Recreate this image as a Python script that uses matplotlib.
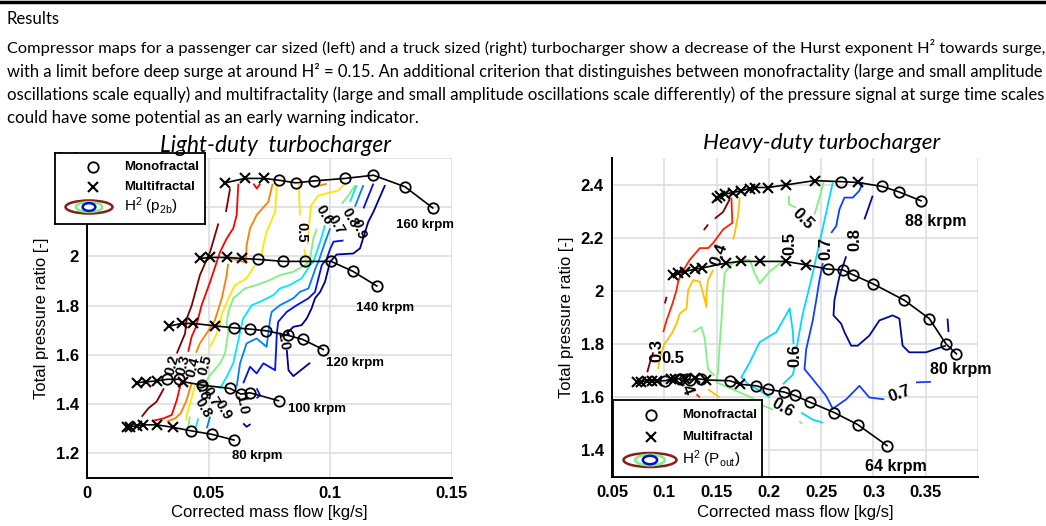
import matplotlib
matplotlib.use("Agg")
import matplotlib.pyplot as plt
from matplotlib.patches import Ellipse
from matplotlib.lines import Line2D

plt.rcParams['font.family'] = ['Liberation Sans', 'DejaVu Sans']
plt.rcParams['mathtext.fontset'] = 'custom'
plt.rcParams['mathtext.rm'] = 'Liberation Sans'
plt.rcParams['mathtext.default'] = 'rm'

# ---------------- text ----------------
heading = "Results"
paragraph = [
    "Compressor maps for a passenger car sized (left) and a truck sized (right) turbocharger show a decrease of the Hurst exponent H\u00b2 towards surge,",
    "with a limit before deep surge at around H\u00b2 = 0.15. An additional criterion that distinguishes between monofractality (large and small amplitude",
    "oscillations scale equally) and multifractality (large and small amplitude oscillations scale differently) of the pressure signal at surge time scales",
    "could have some potential as an early warning indicator.",
]

# ---------------- light-duty speedlines ----------------
ld_160_x = [0.0567, 0.0649, 0.0728, 0.0787, 0.0858, 0.0934, 0.1060, 0.1177, 0.1307, 0.1421]
ld_160_y = [2.299, 2.317, 2.317, 2.310, 2.299, 2.307, 2.317, 2.330, 2.283, 2.197]
ld_160_m = "xxxooooooo"
ld_140_x = [0.0464, 0.0506, 0.0577, 0.0636, 0.0704, 0.0807, 0.0896, 0.1003, 0.1092, 0.1191]
ld_140_y = [1.992, 1.996, 1.996, 1.992, 1.988, 1.980, 1.980, 1.980, 1.940, 1.880]
ld_140_m = "xxxxoooooo"
ld_120_x = [0.0338, 0.0389, 0.0437, 0.0526, 0.0604, 0.0670, 0.0736, 0.0824, 0.0886, 0.0971]
ld_120_y = [1.717, 1.728, 1.728, 1.718, 1.710, 1.705, 1.698, 1.680, 1.663, 1.622]
ld_120_m = "xxxxoooooo"
ld_100_x = [0.0207, 0.0243, 0.0286, 0.0330, 0.0379, 0.0396, 0.0474, 0.0588, 0.0632, 0.0670, 0.0787]
ld_100_y = [1.487, 1.491, 1.494, 1.501, 1.501, 1.491, 1.477, 1.464, 1.441, 1.446, 1.414]
ld_100_m = "xxxooxooooo"
ld_80_x = [0.0163, 0.0177, 0.0204, 0.0231, 0.0286, 0.0352, 0.0426, 0.0515, 0.0604]
ld_80_y = [1.308, 1.308, 1.312, 1.316, 1.316, 1.306, 1.292, 1.277, 1.254]
ld_80_m = "xxxxxxooo"
ld_speed_names = ["160 krpm", "140 krpm", "120 krpm", "100 krpm", "80 krpm"]
ld_speed_pos = [(0.139, 2.127), (0.1225, 1.789), (0.110, 1.568), (0.0944, 1.379), (0.0701, 1.189)]

# ---------------- light-duty H2 iso-lines (0.2 ... 1.0) ----------------
ld_h02 = [[(0.0588, 2.276), (0.0571, 2.181)],
          [(0.0540, 2.134), (0.0506, 2.019), (0.0464, 1.924), (0.0430, 1.800), (0.0410, 1.748),
           (0.0403, 1.687), (0.0369, 1.606)],
          [(0.0316, 1.464), (0.0286, 1.410), (0.0252, 1.383), (0.0225, 1.349)]]
ld_h03 = [[(0.0622, 2.296), (0.0615, 2.168), (0.0601, 2.114), (0.0574, 2.073), (0.0547, 2.019),
           (0.0506, 1.897), (0.0471, 1.802), (0.0448, 1.714), (0.0430, 1.674), (0.0416, 1.613)],
          [(0.0389, 1.498), (0.0369, 1.417), (0.0348, 1.356), (0.0314, 1.342), (0.0273, 1.333)],
          [(0.0684, 2.296), (0.0698, 2.276), (0.0712, 2.296)]]
ld_h04 = [[(0.0763, 2.296), (0.0745, 2.222), (0.0697, 2.168), (0.0670, 2.114), (0.0656, 2.046),
           (0.0653, 1.975), (0.0620, 1.985), (0.0588, 1.992)],
          [(0.0580, 1.970), (0.0574, 1.924), (0.0554, 1.830), (0.0525, 1.740), (0.0500, 1.700),
           (0.0464, 1.647), (0.0448, 1.609)],
          [(0.0430, 1.485), (0.0407, 1.410), (0.0385, 1.363), (0.0362, 1.342), (0.0328, 1.329)],
          [(0.0930, 2.282), (0.0985, 2.295)]]
ld_h05 = [[(0.0780, 2.290), (0.0773, 2.181), (0.0738, 2.100), (0.0725, 2.046), (0.0718, 2.005)],
          [(0.0690, 1.965), (0.0656, 1.911), (0.0608, 1.884), (0.0581, 1.830), (0.0553, 1.762),
           (0.0545, 1.720), (0.0530, 1.680), (0.0506, 1.633)],
          [(0.0444, 1.478), (0.0430, 1.424), (0.0412, 1.363), (0.0407, 1.335)],
          [(0.0873, 2.296), (0.0871, 2.276), (0.0875, 2.167)],
          [(0.0893, 2.031), (0.0899, 1.984)],
          [(0.1060, 2.295), (0.1033, 2.268), (0.0951, 2.248), (0.0921, 2.207), (0.0912, 2.126),
           (0.0907, 2.050)]]
ld_h06 = [[(0.1101, 2.288), (0.1074, 2.248), (0.1047, 2.214)],
          [(0.0944, 2.112), (0.0930, 2.072), (0.0921, 2.018), (0.0917, 1.984), (0.0896, 1.965),
           (0.0848, 1.938), (0.0793, 1.924), (0.0752, 1.904), (0.0697, 1.884), (0.0649, 1.870),
           (0.0601, 1.830), (0.0581, 1.775), (0.0574, 1.728), (0.0581, 1.694), (0.0567, 1.606),
           (0.0547, 1.566), (0.0506, 1.518), (0.0478, 1.478)],
          [(0.0423, 1.349), (0.0416, 1.308)]]
ld_h07 = [[(0.1108, 2.290), (0.1081, 2.222)],
          [(0.0978, 2.127), (0.0958, 2.059), (0.0930, 1.978), (0.0917, 1.965), (0.0882, 1.911),
           (0.0834, 1.884), (0.0793, 1.870), (0.0766, 1.843), (0.0711, 1.816), (0.0677, 1.802),
           (0.0642, 1.748), (0.0635, 1.720), (0.0622, 1.660), (0.0601, 1.566), (0.0574, 1.511),
           (0.0547, 1.464)],
          [(0.0457, 1.342), (0.0448, 1.308)]]
ld_h08 = [[(0.1136, 2.290), (0.1101, 2.202)],
          [(0.0999, 2.114), (0.0974, 2.046), (0.0951, 1.978), (0.0944, 1.965), (0.0910, 1.870),
           (0.0875, 1.856), (0.0848, 1.830), (0.0793, 1.802), (0.0759, 1.775), (0.0752, 1.741),
           (0.0738, 1.633), (0.0697, 1.667), (0.0656, 1.647), (0.0629, 1.566), (0.0615, 1.471)],
          [(0.0492, 1.302), (0.0506, 1.349)]]
ld_h09 = [[(0.1177, 2.296), (0.1136, 2.195)],
          [(0.1054, 2.065), (0.1013, 2.060), (0.0999, 2.030), (0.0985, 1.990), (0.0965, 1.965),
           (0.0937, 1.856), (0.0910, 1.830), (0.0862, 1.802), (0.0821, 1.775), (0.0786, 1.735),
           (0.0780, 1.687), (0.0777, 1.620), (0.0773, 1.538), (0.0725, 1.566), (0.0697, 1.525),
           (0.0670, 1.552), (0.0642, 1.485)],
          [(0.0697, 1.464), (0.0711, 1.437), (0.0697, 1.424)]]
ld_h10 = [[(0.1225, 2.290), (0.1177, 2.181), (0.1156, 2.141), (0.1122, 2.033), (0.1094, 2.012),
           (0.1026, 2.008), (0.0999, 1.978), (0.0992, 1.951), (0.0978, 1.897), (0.0958, 1.856),
           (0.0937, 1.830), (0.0923, 1.789), (0.0903, 1.748), (0.0882, 1.721), (0.0848, 1.714),
           (0.0821, 1.687)],
          [(0.0821, 1.620), (0.0828, 1.538), (0.0848, 1.514), (0.0917, 1.568)],
          [(0.0642, 1.322), (0.0656, 1.308), (0.0672, 1.319)]]
ld_colors = ['#800000', '#ff0000', '#ff8000', '#ffe600', '#80f080',
             '#00e8ff', '#0080ff', '#0010f0', '#000090']
ld_label_text = ["0.5", "0.6", "0.7", "0.8", "0.9", "1.0",
                 "0.2", "0.3", "0.4", "0.5", "0.6", "0.7", "0.8", "0.9", "1.0"]
ld_label_pos = [(0.0882, 2.10), (0.0975, 2.17), (0.1025, 2.13), (0.1080, 2.155), (0.1115, 2.11),
                (0.0806, 1.66), (0.0348, 1.56), (0.0396, 1.56), (0.0437, 1.552), (0.0485, 1.56),
                (0.0470, 1.455), (0.0510, 1.43), (0.0478, 1.385), (0.0560, 1.378), (0.0636, 1.398)]
ld_label_rot = [-90, -60, -60, -60, -70, -80, 75, 75, 75, 75, -70, -60, -60, -60, -80]

# ---------------- heavy-duty speedlines ----------------
hd_88_x = [0.1500, 0.1530, 0.1578, 0.1657, 0.1737, 0.1817, 0.1864, 0.1991, 0.2167, 0.2437,
           0.2691, 0.2850, 0.3083, 0.3241, 0.3455]
hd_88_y = [2.348, 2.358, 2.364, 2.370, 2.377, 2.385, 2.389, 2.389, 2.399, 2.415,
           2.411, 2.408, 2.393, 2.373, 2.339]
hd_88_m = "xxxxxxxxxxoxooo"
hd_80_x = [0.1085, 0.1133, 0.1197, 0.1292, 0.1356, 0.1594, 0.1737, 0.1912, 0.2160, 0.2357,
           0.2564, 0.2707, 0.2809, 0.3000, 0.3295, 0.3534, 0.3693, 0.3794]
hd_80_y = [2.060, 2.069, 2.073, 2.082, 2.086, 2.105, 2.111, 2.111, 2.111, 2.098,
           2.082, 2.079, 2.060, 2.026, 1.965, 1.896, 1.801, 1.763]
hd_80_m = "xxxxxxxxxxoooooooo"
hd_64_x = [0.0736, 0.0780, 0.0831, 0.0880, 0.0926, 0.1006, 0.1060, 0.1101, 0.1150, 0.1196,
           0.1250, 0.1292, 0.1350, 0.1403, 0.1626, 0.1721, 0.1880, 0.1991, 0.2141, 0.2246,
           0.2389, 0.2627, 0.2850, 0.3130]
hd_64_y = [1.656, 1.658, 1.662, 1.662, 1.662, 1.662, 1.668, 1.668, 1.670, 1.668,
           1.665, 1.671, 1.668, 1.665, 1.662, 1.649, 1.643, 1.630, 1.620, 1.607,
           1.582, 1.542, 1.497, 1.418]
hd_64_m = "xxxxxoxxoxoxoxoxoooooooo"
hd_speed_names = ["88 krpm", "80 krpm", "64 krpm"]
hd_speed_pos = [(0.3597, 2.263), (0.3836, 1.706), (0.3216, 1.339)]

# ---------------- heavy-duty H2 iso-lines (0.2 ... 0.8) ----------------
hd_h02 = [[(0.1378, 2.229), (0.1419, 2.250)],
          [(0.1483, 2.272), (0.1562, 2.297), (0.1626, 2.345)],
          [(0.1022, 1.978), (0.1006, 1.953)],
          [(0.0894, 1.769), (0.0863, 1.731), (0.0837, 1.694)]]
hd_h03 = [[(0.1642, 2.351), (0.1651, 2.256), (0.1562, 2.231), (0.1467, 2.180), (0.1419, 2.161),
           (0.1340, 2.161), (0.1244, 2.117), (0.1165, 2.067), (0.1133, 2.035), (0.1117, 2.003),
           (0.1079, 1.953), (0.1022, 1.889), (0.0990, 1.845)],
          [(0.1308, 1.611), (0.1340, 1.599)]]
hd_h04 = [[(0.1721, 2.351), (0.1705, 2.282), (0.1674, 2.218), (0.1657, 2.193)],
          [(0.1467, 2.079), (0.1419, 2.041), (0.1403, 1.991), (0.1403, 1.940), (0.1371, 1.991),
           (0.1340, 2.035), (0.1276, 2.041), (0.1228, 2.003), (0.1213, 1.934), (0.1149, 1.915),
           (0.1117, 1.877), (0.1070, 1.839), (0.1000, 1.800), (0.0958, 1.750), (0.0942, 1.706)],
          [(0.1419, 1.630), (0.1530, 1.599)]]
hd_h05 = [[(0.2192, 2.358), (0.2192, 2.326), (0.2262, 2.313)],
          [(0.2437, 2.288), (0.2484, 2.351), (0.2525, 2.411)],
          [(0.2129, 2.111), (0.2007, 2.073), (0.1912, 2.029), (0.1864, 2.067), (0.1817, 2.117),
           (0.1721, 2.117), (0.1632, 2.098), (0.1578, 2.067), (0.1562, 1.991), (0.1547, 1.889),
           (0.1537, 1.839), (0.1525, 1.770), (0.1515, 1.700), (0.1499, 1.656), (0.1690, 1.624),
           (0.1833, 1.599), (0.1912, 1.573), (0.2039, 1.554)],
          [(0.1276, 1.845), (0.1356, 1.864), (0.1387, 1.820), (0.1403, 1.757), (0.1419, 1.706),
           (0.1480, 1.680)],
          [(0.2293, 1.510), (0.2319, 1.500)]]
hd_h06 = [[(0.2611, 2.408), (0.2548, 2.294), (0.2484, 2.180), (0.2420, 2.067), (0.2373, 1.991),
           (0.2325, 1.915), (0.2290, 1.840), (0.2268, 1.790)],
          [(0.2245, 1.715), (0.2230, 1.685), (0.2134, 1.649)],
          [(0.2007, 1.599), (0.1944, 1.618), (0.1800, 1.650), (0.1737, 1.675), (0.1817, 1.731),
           (0.1912, 1.807), (0.2071, 1.845), (0.2199, 1.934), (0.2230, 1.845), (0.2235, 1.800)],
          [(0.2310, 1.542), (0.2420, 1.516), (0.2516, 1.504)]]
hd_h07 = [[(0.2898, 2.408), (0.2866, 2.377), (0.2802, 2.351), (0.2723, 2.351), (0.2675, 2.307),
           (0.2644, 2.244), (0.2596, 2.218)],
          [(0.2516, 2.105), (0.2484, 2.041), (0.2453, 1.965), (0.2420, 1.889), (0.2380, 1.820),
           (0.2357, 1.780), (0.2341, 1.706), (0.2420, 1.668), (0.2548, 1.605), (0.2611, 1.557),
           (0.2739, 1.592), (0.2866, 1.643), (0.2961, 1.599), (0.3104, 1.592)],
          [(0.3407, 1.656), (0.3550, 1.658)]]
hd_h08 = [[(0.2993, 2.358), (0.2914, 2.269)],
          [(0.2739, 2.130), (0.2675, 2.054), (0.2627, 1.965), (0.2618, 1.908), (0.2691, 1.877),
           (0.2723, 1.845), (0.2787, 1.794), (0.2850, 1.794), (0.2961, 1.832), (0.3057, 1.889),
           (0.3184, 1.908), (0.3248, 1.896), (0.3279, 1.794), (0.3343, 1.769), (0.3502, 1.769),
           (0.3693, 1.794)],
          [(0.3709, 1.896), (0.3718, 1.845)]]
hd_colors = ['#800000', '#ff2000', '#ffc000', '#80f080', '#00d8ff', '#1040ff', '#000a90']
hd_label_text = ["0.3", "0.5", "0.4", "0.4", "0.5", "0.5", "0.7", "0.8", "0.6", "0.6", "0.7"]
hd_label_pos = [(0.0926, 1.776), (0.1085, 1.744), (0.1197, 1.649), (0.1520, 2.135),
                (0.2325, 2.269), (0.2199, 2.180), (0.2548, 2.161), (0.2818, 2.193),
                (0.2246, 1.757), (0.2134, 1.561), (0.3248, 1.611)]
hd_label_rot = [90, 0, -70, 70, -45, 90, 90, 90, 90, -30, 20]

W, H = 1046, 526
fig = plt.figure(figsize=(W / 100, H / 100), dpi=100)
renderer = fig.canvas.get_renderer()


def fit_width(txt, width_px):
    w = txt.get_window_extent(renderer).width
    txt.set_fontsize(txt.get_fontsize() * width_px / w)


# heading + paragraph
fig.add_artist(Line2D([0, 1], [1 - 1.5 / H] * 2, color='black', lw=2.5))
t = fig.text(7 / W, 1 - 19 / H, heading, family=['Lato', 'DejaVu Sans'], fontsize=11, va='center')
fit_width(t, 53)
line_y = [47, 71, 95, 118]
line_w = [1033, 1033, 1033, 411]
for s, yy, ww in zip(paragraph, line_y, line_w):
    t = fig.text(7 / W, 1 - yy / H, s, family=['Lato', 'DejaVu Sans'], fontsize=11, va='center')
    fit_width(t, ww)


def px_axes(x0, y0, x1, y1):
    return fig.add_axes([x0 / W, 1 - y1 / H, (x1 - x0) / W, (y1 - y0) / H])


def style_axes(ax):
    for s in ['top', 'right']:
        ax.spines[s].set_visible(False)
    for s in ['left', 'bottom']:
        ax.spines[s].set_linewidth(1.4)
    ax.grid(True, color='#dedede', lw=1.2)
    ax.set_axisbelow(True)
    ax.tick_params(length=0, labelsize=12, pad=6)
    for lab in ax.get_xticklabels() + ax.get_yticklabels():
        lab.set_fontweight('bold')
    ax.set_xlabel("Corrected mass flow [kg/s]", fontsize=12, labelpad=3)
    ax.set_ylabel("Total pressure ratio [-]", fontsize=12, labelpad=5)


def draw_lines(ax, groups, colors):
    for segs, c in zip(groups, colors):
        for seg in segs:
            xs, ys = zip(*seg)
            ax.plot(xs, ys, color=c, lw=1.3, zorder=2, solid_capstyle='butt')


def draw_speed(ax, xs, ys, marks):
    ax.plot(xs, ys, color='black', lw=1.2, zorder=3)
    ox = [x for x, m in zip(xs, marks) if m == 'o']
    oy = [y for y, m in zip(ys, marks) if m == 'o']
    cx = [x for x, m in zip(xs, marks) if m == 'x']
    cy = [y for y, m in zip(ys, marks) if m == 'x']
    ax.plot(ox, oy, 'o', ms=7.5, mfc='none', mec='black', mew=1.3, zorder=4)
    ax.plot(cx, cy, 'x', ms=7.5, mec='black', mew=1.5, zorder=4)


def draw_legend(x0, y0, x1, y1, label, rows, mx, tx, ell):
    lg = px_axes(x0, y0, x1, y1)
    lg.set_xlim(0, x1 - x0)
    lg.set_ylim(y1 - y0, 0)
    lg.set_xticks([])
    lg.set_yticks([])
    for s in lg.spines.values():
        s.set_linewidth(1.3)
    lg.plot([mx], [rows[0]], 'o', ms=7.5, mfc='none', mec='black', mew=1.3)
    lg.plot([mx], [rows[1]], 'x', ms=7.5, mec='black', mew=1.5)
    lg.text(tx, rows[0], "Monofractal", fontsize=9.5, fontweight='bold', va='center')
    lg.text(tx, rows[1], "Multifractal", fontsize=9.5, fontweight='bold', va='center')
    ecx, ew, eh = ell
    for f, c in zip([1.0, 0.56, 0.27], ['#8b1a1a', '#80f080', '#0010d0']):
        lg.add_patch(Ellipse((ecx, rows[2]), ew * f, eh * (0.45 + 0.55 * f), fill=False,
                             ec=c, lw=1.8))
    lg.text(tx, rows[2] - 1, label, fontsize=11, va='center')


# ---------------- light-duty ----------------
ax1 = px_axes(87, 158, 452, 478)
ax1.set_xlim(0, 0.15)
ax1.set_ylim(1.1, 2.4)
ax1.set_xticks([0, 0.05, 0.1, 0.15], ['0', '0.05', '0.1', '0.15'])
ax1.set_yticks([1.2, 1.4, 1.6, 1.8, 2.0, 2.2, 2.4], ['1.2', '1.4', '1.6', '1.8', '2', '2.2', '2.4'])
style_axes(ax1)
draw_lines(ax1, [ld_h02, ld_h03, ld_h04, ld_h05, ld_h06, ld_h07, ld_h08, ld_h09, ld_h10], ld_colors)
for xs, ys, ms in [(ld_160_x, ld_160_y, ld_160_m), (ld_140_x, ld_140_y, ld_140_m),
                   (ld_120_x, ld_120_y, ld_120_m), (ld_100_x, ld_100_y, ld_100_m),
                   (ld_80_x, ld_80_y, ld_80_m)]:
    draw_speed(ax1, xs, ys, ms)
for name, (x, y) in zip(ld_speed_names, ld_speed_pos):
    ax1.text(x, y, name, fontsize=9.5, fontweight='bold', ha='center', va='center', zorder=5)
for s, (x, y), r in zip(ld_label_text, ld_label_pos, ld_label_rot):
    ax1.text(x, y, s, fontsize=10.5, fontweight='bold', rotation=r, ha='center', va='center',
             zorder=5)
t = fig.text(275 / W, 1 - 145 / H, "Light-duty  turbocharger", family=['Lato', 'DejaVu Sans'],
             style='italic', fontsize=13.5, ha='center', va='center')
fit_width(t, 230)

# ---------------- heavy-duty ----------------
ax2 = px_axes(612, 158, 978, 477)
ax2.set_xlim(0.05, 0.4)
ax2.set_ylim(1.3, 2.5)
ax2.set_xticks([0.05, 0.1, 0.15, 0.2, 0.25, 0.3, 0.35, 0.4],
               ['0.05', '0.1', '0.15', '0.2', '0.25', '0.3', '0.35', ''])
ax2.set_yticks([1.4, 1.6, 1.8, 2.0, 2.2, 2.4], ['1.4', '1.6', '1.8', '2', '2.2', '2.4'])
style_axes(ax2)
draw_lines(ax2, [hd_h02, hd_h03, hd_h04, hd_h05, hd_h06, hd_h07, hd_h08], hd_colors)
for xs, ys, ms in [(hd_88_x, hd_88_y, hd_88_m), (hd_80_x, hd_80_y, hd_80_m),
                   (hd_64_x, hd_64_y, hd_64_m)]:
    draw_speed(ax2, xs, ys, ms)
for name, (x, y) in zip(hd_speed_names, hd_speed_pos):
    ax2.text(x, y, name, fontsize=11.5, fontweight='bold', ha='center', va='center', zorder=5)
for s, (x, y), r in zip(hd_label_text, hd_label_pos, hd_label_rot):
    ax2.text(x, y, s, fontsize=12, fontweight='bold', rotation=r, ha='center', va='center',
             zorder=5)
t = fig.text(822 / W, 1 - 143 / H, "Heavy-duty turbocharger", family=['Lato', 'DejaVu Sans'],
             style='italic', fontsize=13.5, ha='center', va='center')
fit_width(t, 237)

# ---------------- legends ----------------
draw_legend(55, 153, 205, 224, r"H$^2$ (p$_{2b}$)", [14, 34, 54], 38, 69, (34, 47, 13))
draw_legend(613, 400, 762, 477, r"H$^2$ (P$_{out}$)", [15, 37, 60], 38, 69, (37, 53, 14))

fig.savefig("out.png", dpi=100)
